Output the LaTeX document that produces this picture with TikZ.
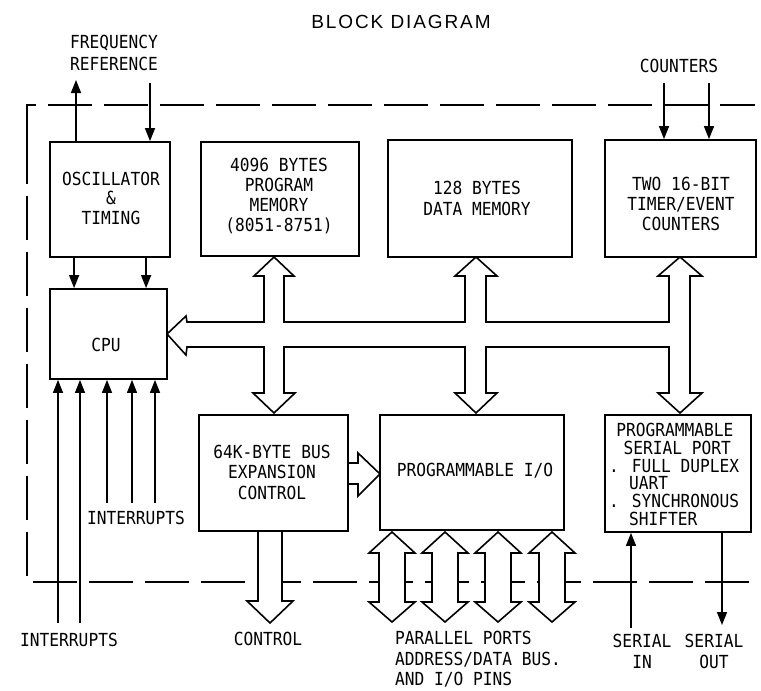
\documentclass[tikz,border=0pt]{standalone}
\usepackage{fontspec}
\setmainfont[FakeStretch=0.9]{DejaVu Sans Mono}
\newfontfamily\titlefont[LetterSpace=10]{Liberation Sans}
\usetikzlibrary{arrows.meta}
\begin{document}
\begin{tikzpicture}[x=1pt,y=-1pt,
  txt/.style={font=\fontsize{18}{20.5}\selectfont, inner sep=0pt, align=center},
  box/.style={draw, line width=1.8pt, inner sep=0pt, fill=white},
  arr/.style={line width=1.5pt, -{Triangle[length=13pt,width=10pt]}},
  fat/.style={draw, line width=1.6pt, fill=white, line join=miter},
  border/.style={line width=1.8pt, dash pattern=on 44pt off 12pt}]
\useasboundingbox (0,0) rectangle (761,691);

% dashed chip border
\draw[border] (27,140) -- (27,105) -- (755,105);
\draw[border] (27,140) -- (27,582) -- (761,582);

% boxes
\node[box, minimum width=120pt, minimum height=115pt] (osc) at (110,199.5) {};
\node[box, minimum width=117pt, minimum height=90pt] (cpu) at (108.5,334) {};
\node[box, minimum width=158pt, minimum height=114pt] (pm) at (280,199) {};
\node[box, minimum width=184pt, minimum height=117pt] (dm) at (480,198.5) {};
\node[box, minimum width=151pt, minimum height=117pt] (tmr) at (680.5,198.5) {};
\node[box, minimum width=149pt, minimum height=116pt] (bx) at (273.5,473) {};
\node[box, minimum width=184pt, minimum height=115pt] (pio) at (472,472.5) {};
\node[box, minimum width=146pt, minimum height=117pt] (ser) at (678,473.5) {};

% internal bus
\path[fat] (187,322) -- (264,322) -- (264,276) -- (254,276) -- (274,257) -- (294,276) -- (284,276) -- (284,322)
  -- (465,322) -- (465,276) -- (455,276) -- (476,257) -- (497,276) -- (486,276) -- (486,322)
  -- (669,322) -- (669,276) -- (658,276) -- (680,257) -- (702,276) -- (690,276) -- (690,393)
  -- (702,393) -- (680,413) -- (658,393) -- (669,393) -- (669,347) -- (486,347) -- (486,393)
  -- (497,393) -- (476,413) -- (455,393) -- (465,393) -- (465,347) -- (284,347) -- (284,393)
  -- (295,393) -- (274,413) -- (253,393) -- (264,393) -- (264,347) -- (187,347)
  -- (186,355) -- (167,334) -- (186,316) -- cycle;

% bus expansion -> programmable I/O
\path[fat] (348,463) -- (358,463) -- (358,453) -- (380,474) -- (358,496) -- (358,484) -- (348,484) -- cycle;
% control
\path[fat] (258,531) -- (258,601) -- (247,601) -- (270,623) -- (293,601) -- (282,601) -- (282,531) -- cycle;
% parallel ports
\foreach \c in {392,445,498,552}{
  \path[fat] (\c-13,553) -- (\c-23,553) -- (\c,532) -- (\c+23,553) -- (\c+13,553) -- (\c+13,602)
    -- (\c+23,602) -- (\c,622) -- (\c-23,602) -- (\c-13,602) -- cycle;
}

% thin arrows
\coordinate (fout) at (76,80);
\coordinate (fin) at (150,83);
\draw[arr] (fout |- osc.north) -- (fout);
\draw[arr] (fin) -- (fin |- osc.north);
\draw[arr] ([xshift=25pt]osc.south west) -- ([xshift=25pt]cpu.north west);
\draw[arr] ([xshift=97pt]osc.south west) -- ([xshift=97pt]cpu.north west);
\coordinate (i1) at (58,623);
\coordinate (i2) at (80,623);
\coordinate (i3) at (107,503);
\coordinate (i4) at (132,503);
\coordinate (i5) at (155,503);
\foreach \p in {i1,i2,i3,i4,i5}{\draw[arr] (\p) -- (\p |- cpu.south);}
\coordinate (c1) at (664,83);
\coordinate (c2) at (709,83);
\draw[arr] (c1) -- (c1 |- tmr.north);
\draw[arr] (c2) -- (c2 |- tmr.north);
\coordinate (sin) at (631,628);
\coordinate (sout) at (722,625);
\draw[arr] (sin) -- (sin |- ser.south);
\draw[arr] (sout |- ser.south) -- (sout);

% texts
\node[font=\titlefont\fontsize{19}{20}\selectfont, inner sep=0pt] (title) at (401,22) {BLOCK DIAGRAM};
\node[txt, font=\fontsize{18}{22}\selectfont] (freq) at (114,53) {FREQUENCY\\REFERENCE};
\node[txt] (cnt) at (679,66) {COUNTERS};
\node[txt, font=\fontsize{18}{19.5}\selectfont] (osct) at (111,198) {OSCILLATOR\\\&\\TIMING};
\node[txt, font=\fontsize{18}{20}\selectfont] (pmt) at (279,196) {4096 BYTES\\PROGRAM\\MEMORY\\(8051-8751)};
\node[txt, font=\fontsize{18}{21}\selectfont] (dmt) at (477,198) {128 BYTES\\DATA MEMORY};
\node[txt, font=\fontsize{18}{20}\selectfont] (tmrt) at (681,204) {TWO 16-BIT\\TIMER/EVENT\\COUNTERS};
\node[txt] (cput) at (106,345) {CPU};
\node[txt, font=\fontsize{18}{20.5}\selectfont] (bxt) at (272,472) {64K-BYTE BUS\\EXPANSION\\CONTROL};
\node[txt] (piot) at (475,471) {PROGRAMMABLE I/O};
\node[txt, align=left, anchor=west, font=\fontsize{18}{17.8}\selectfont] (sert) at (609,474.5)
  {\hspace*{0.4em}PROGRAMMABLE\\\hspace*{0.8em}SERIAL PORT\\. FULL DUPLEX\\\hspace*{1.1em}UART\\. SYNCHRONOUS\\\hspace*{1.1em}SHIFTER};
\node[txt] (int1) at (136,518) {INTERRUPTS};
\node[txt] (int2) at (69,640) {INTERRUPTS};
\node[txt] (ctl) at (268,639) {CONTROL};
\node[txt, align=left, anchor=west, font=\fontsize{18}{20.5}\selectfont] (par) at (395,659.5)
  {PARALLEL PORTS\\ADDRESS/DATA BUS.\\AND I/O PINS};
\node[txt, font=\fontsize{18}{21}\selectfont] (sint) at (642,651.5) {SERIAL\\IN};
\node[txt, font=\fontsize{18}{21}\selectfont] (soutt) at (714,651.5) {SERIAL\\OUT};
\end{tikzpicture}
\end{document}
